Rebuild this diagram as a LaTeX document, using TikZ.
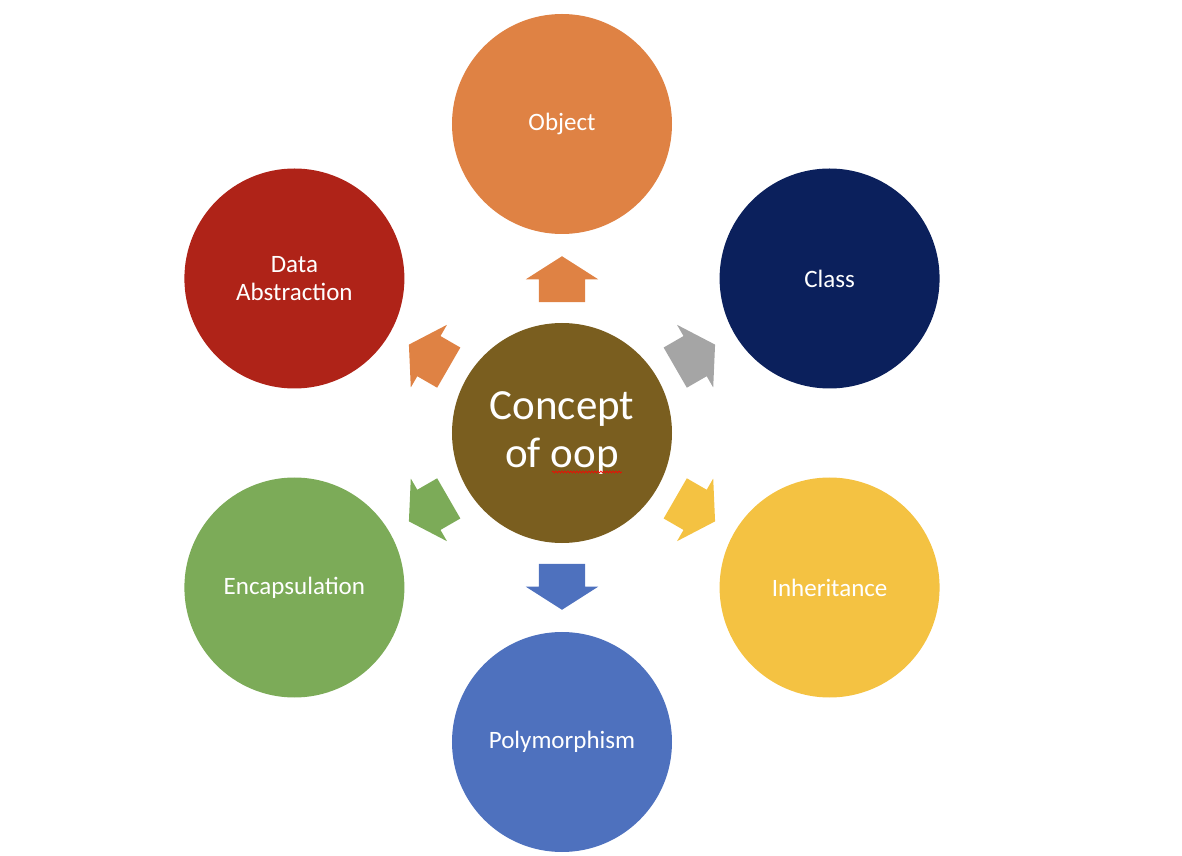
\documentclass[tikz,border=0pt]{standalone}
\usepackage{fontspec}
\setmainfont{Carlito}
\usetikzlibrary{shapes.arrows,decorations.pathmorphing}

\definecolor{oopbrown}{HTML}{7A5E1F}
\definecolor{objorange}{HTML}{DF8244}
\definecolor{classnavy}{HTML}{0B205C}
\definecolor{inhyellow}{HTML}{F4C242}
\definecolor{polyblue}{HTML}{4E71BE}
\definecolor{encgreen}{HTML}{7CAB58}
\definecolor{absred}{HTML}{AF2318}
\definecolor{arrowgray}{HTML}{A5A5A5}

\begin{document}
\begin{tikzpicture}[x=1bp, y=1bp]

\tikzset{Concept/.style = {circle, minimum size = 220bp, inner sep = 0pt, text = white, align = center, font = \fontsize{25bp}{28bp}\selectfont}}
\tikzset{BlockArrow/.style = {single arrow, minimum height = 46bp, minimum width = 72bp, inner xsep = 0pt, inner ysep = 23bp, single arrow head extend = 13bp, single arrow tip angle = 115, anchor = tip}}

\useasboundingbox (-562,-423) rectangle (620,433);

\node[Concept, fill=oopbrown, font=\fontsize{43bp}{48bp}\selectfont] (oop) at (0,0) {Concept\\of oop};

\node[Concept, fill=objorange] (object) at (90:309) {Object};
\node[Concept, fill=classnavy] (class) at (30:309) {Class};
\node[Concept, fill=inhyellow] (inherit) at (-30:309) {Inheritance};
\node[Concept, fill=polyblue] (poly) at (-90:309) {Polymorphism};
\node[Concept, fill=encgreen] (encap) at (-150:309) {Encapsulation};
\node[Concept, fill=absred] (abstr) at (150:309) {Data\\Abstraction};

\foreach \a/\c in {90/objorange, 30/arrowgray, -30/inhyellow, -90/polyblue, -150/encgreen, 150/objorange}
  \node[BlockArrow, fill=\c, rotate=\a] (arr\a) at (\a:177) {};

% spelling mark under oop
\draw[red, line width=0.6bp, decorate, decoration={snake, amplitude=1bp, segment length=3bp}]
  ([shift={(-10,-39)}]oop.center) -- ([shift={(60,-39)}]oop.center);

\end{tikzpicture}
\end{document}
